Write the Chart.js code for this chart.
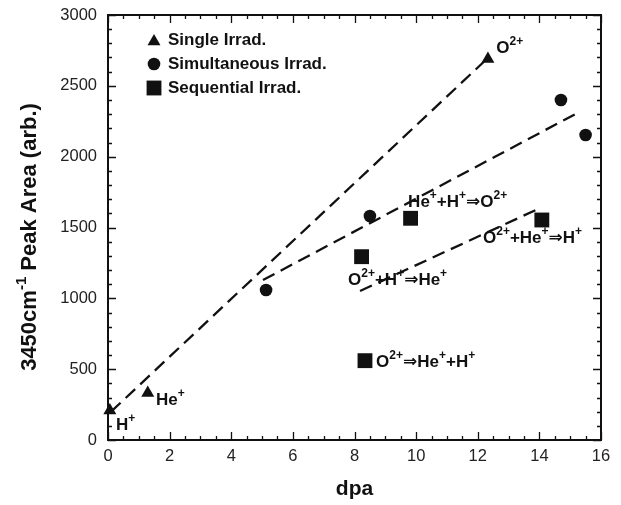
<!DOCTYPE html>
<html>
<head>
<meta charset="utf-8">
<style>
  html, body { margin: 0; padding: 0; background: #fff; }
  #wrap { width: 621px; height: 505px; position: relative; }
</style>
<script src="https://cdn.jsdelivr.net/npm/chart.js@4.4.1/dist/chart.umd.min.js"></script>
</head>
<body>
<div id="wrap"><canvas id="chart"></canvas></div>
<script>
// measured points
const singleX = [0.06, 1.29, 12.33];
const singleY = [208, 332, 2689];
const simulX = [5.13, 8.5, 14.7, 15.5];
const simulY = [1059, 1581, 2400, 2153];
const seqX = [8.23, 9.82, 14.08, 8.34];
const seqY = [1294, 1565, 1553, 560];

// dashed fit lines (end points)
const fitSingleX = [0.1, 12.2];
const fitSingleY = [200, 2670];
const fitSimulX = [5.03, 15.23];
const fitSimulY = [1129, 2308];
const fitSeqX = [8.18, 13.89];
const fitSeqY = [1052, 1624];

const seriesLabels = ['Single Irrad.', 'Simultaneous Irrad.', 'Sequential Irrad.'];
const yTitle = '3450cm{-1} Peak Area (arb.)';

// text labels, {..} = superscript
const noteText = ['O{2+}', 'He{+}', 'H{+}', 'He{+}+H{+}⇒O{2+}', 'O{2+}+He{+}⇒H{+}', 'O{2+}+H{+}⇒He{+}', 'O{2+}⇒He{+}+H{+}'];
const noteX = [12.6, 1.56, 0.26, 9.74, 12.17, 7.79, 8.70];
const noteY = [2767, 282, 106, 1680, 1426, 1129, 551];

const ink = '#111';
const pts = (xs, ys) => xs.map((v, i) => ({x: v, y: ys[i]}));

const markerSet = (label, xs, ys, style, r) => ({
    label: label,
    data: pts(xs, ys),
    showLine: false,
    pointStyle: style,
    pointRadius: r,
    pointBackgroundColor: ink,
    pointBorderColor: ink,
    pointBorderWidth: 0,
    clip: false
});

const fitSet = (xs, ys) => ({
    label: '',
    data: pts(xs, ys),
    showLine: true,
    borderColor: ink,
    borderWidth: 2.3,
    borderDash: [13, 7],
    pointRadius: 0,
    fill: false
});

const splitSup = (s) => {
    const parts = [];
    const re = /\{([^}]*)\}|([^{]+)/g;
    let m;
    while ((m = re.exec(s))) {
        if (m[1] !== undefined) parts.push({t: m[1], sup: true});
        else parts.push({t: m[2], sup: false});
    }
    return parts;
};

const fontOf = (size) => `bold ${size}px "Liberation Sans", "DejaVu Sans", sans-serif`;

const richWidth = (ctx, s, size) => {
    let w = 0;
    splitSup(s).forEach(p => {
        ctx.font = fontOf(p.sup ? Math.round(size * 0.7) : size);
        w += ctx.measureText(p.t).width;
    });
    return w;
};

const drawRich = (ctx, s, x, y, size) => {
    let cx = x;
    splitSup(s).forEach(p => {
        ctx.font = fontOf(p.sup ? Math.round(size * 0.7) : size);
        ctx.fillText(p.t, cx, p.sup ? y - size * 0.36 : y);
        cx += ctx.measureText(p.t).width;
    });
};

const drawMarker = (ctx, style, x, y, r) => {
    ctx.beginPath();
    if (style === 'triangle') {
        ctx.moveTo(x, y - r);
        ctx.lineTo(x + r * 0.866, y + r / 2);
        ctx.lineTo(x - r * 0.866, y + r / 2);
        ctx.closePath();
    } else if (style === 'circle') {
        ctx.arc(x, y, r, 0, Math.PI * 2);
    } else {
        const h = r * Math.SQRT1_2;
        ctx.rect(x - h, y - h, 2 * h, 2 * h);
    }
    ctx.fill();
};

const frameTicks = {
    id: 'frameTicks',
    afterDatasetsDraw(chart) {
        const {ctx, chartArea: a, scales: {x, y}} = chart;
        ctx.save();
        ctx.strokeStyle = ink;
        ctx.lineWidth = 1.3;
        ctx.beginPath();
        for (let i = 0; i <= 32; i++) {
            const px = Math.round(x.getPixelForValue(i * 0.5)) + 0.5;
            const len = i % 4 === 0 ? 8 : 4;
            ctx.moveTo(px, a.bottom); ctx.lineTo(px, a.bottom - len);
            ctx.moveTo(px, a.top); ctx.lineTo(px, a.top + len);
        }
        for (let i = 0; i <= 30; i++) {
            const py = Math.round(y.getPixelForValue(i * 100)) + 0.5;
            const len = i % 5 === 0 ? 8 : 4;
            ctx.moveTo(a.left, py); ctx.lineTo(a.left + len, py);
            ctx.moveTo(a.right, py); ctx.lineTo(a.right - len, py);
        }
        ctx.stroke();
        ctx.lineWidth = 2;
        ctx.strokeRect(a.left, a.top, a.right - a.left, a.bottom - a.top);

        // legend
        const legendRows = [
            {style: 'triangle', r: 7.5},
            {style: 'circle', r: 6.3},
            {style: 'rect', r: 10.5}
        ];
        ctx.fillStyle = ink;
        ctx.textBaseline = 'middle';
        ctx.textAlign = 'left';
        seriesLabels.forEach((lab, i) => {
            const ly = 40 + i * 24;
            drawMarker(ctx, legendRows[i].style, 154, ly + (i === 0 ? 1.5 : 0), legendRows[i].r);
            ctx.font = fontOf(17);
            ctx.fillText(lab, 168, ly);
        });

        // point notes
        noteText.forEach((s, i) => {
            drawRich(ctx, s, x.getPixelForValue(noteX[i]), y.getPixelForValue(noteY[i]), 17);
        });

        // y axis title with superscript
        ctx.translate(30, 237);
        ctx.rotate(-Math.PI / 2);
        const tw = richWidth(ctx, yTitle, 22);
        drawRich(ctx, yTitle, -tw / 2, 0, 22);
        ctx.restore();
    }
};

new Chart(document.getElementById('chart').getContext('2d'), {
    type: 'scatter',
    data: {
        datasets: [
            fitSet(fitSingleX, fitSingleY),
            fitSet(fitSimulX, fitSimulY),
            fitSet(fitSeqX, fitSeqY),
            markerSet(seriesLabels[0], singleX, singleY, 'triangle', 7.5),
            markerSet(seriesLabels[1], simulX, simulY, 'circle', 6.3),
            markerSet(seriesLabels[2], seqX, seqY, 'rect', 10.5)
        ]
    },
    options: {
        responsive: true,
        maintainAspectRatio: false,
        animation: false,
        layout: {padding: {top: 15, right: 20, bottom: 0, left: 0}},
        plugins: {legend: {display: false}, tooltip: {enabled: false}},
        scales: {
            x: {
                type: 'linear',
                min: 0,
                max: 16,
                grid: {display: false, drawTicks: false},
                border: {display: false},
                ticks: {
                    stepSize: 2,
                    padding: 7,
                    color: '#222',
                    callback: v => String(v),
                    font: {family: '"Liberation Sans", Arial, sans-serif', size: 16.5}
                },
                title: {
                    display: true,
                    text: 'dpa',
                    color: ink,
                    padding: {top: 0, bottom: 3.6},
                    font: {family: '"Liberation Sans", Arial, sans-serif', size: 21, weight: 'bold'}
                },
                afterFit: (s) => { s.height = 65; s.paddingLeft = 0; s.paddingRight = 0; }
            },
            y: {
                type: 'linear',
                min: 0,
                max: 3000,
                grid: {display: false, drawTicks: false},
                border: {display: false},
                ticks: {
                    stepSize: 500,
                    padding: 11,
                    color: '#222',
                    callback: v => String(v),
                    font: {family: '"Liberation Sans", Arial, sans-serif', size: 16.5}
                },
                afterFit: (s) => { s.width = 108; s.paddingTop = 0; s.paddingBottom = 0; }
            }
        }
    },
    plugins: [frameTicks]
});
</script>
</body>
</html>
